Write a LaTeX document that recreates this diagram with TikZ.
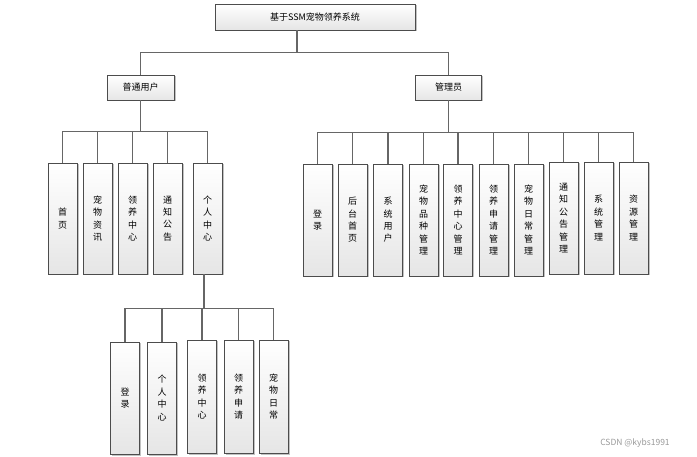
\documentclass[tikz,border=0pt]{standalone}
\usepackage{fontspec}
\newfontfamily\cjk{Noto Sans CJK SC}
\usetikzlibrary{shadows}
\tikzset{
  bx/.style={draw=black!70, line width=0.8pt, top color=white, bottom color=black!10,
    drop shadow={shadow xshift=1.5pt, shadow yshift=-1.5pt, fill=black!40, opacity=0.6},
    inner sep=0pt, align=center, font=\cjk\fontsize{9}{12.4}\selectfont},
  hb/.style={bx, minimum height=25pt},
  vb/.style={bx, minimum width=29pt, minimum height=111pt},
  conn/.style={draw=black!60, line width=1.2pt}
}
\begin{document}
\begin{tikzpicture}[x=1pt,y=-1pt]
\useasboundingbox (0,0) rectangle (697,457);
% top
\node[hb, minimum width=200pt, minimum height=26pt] (top) at (315,17) {基于SSM宠物领养系统};
\node[hb, minimum width=67pt] (u) at (140.5,87.5) {普通用户};
\node[hb, minimum width=66pt] (a) at (448.5,87.5) {管理员};
% user children
\node[vb] (u1) at (62.5,218.5) {首\\页};
\node[vb] (u2) at (97.5,218.5) {宠\\物\\资\\讯};
\node[vb] (u3) at (132.5,218.5) {领\\养\\中\\心};
\node[vb] (u4) at (167.5,218.5) {通\\知\\公\\告};
\node[vb] (u5) at (207.5,218.5) {个\\人\\中\\心};
% personal center children
\node[vb, minimum height=112pt] (p1) at (125,398) {登\\录};
\node[vb, minimum height=112pt] (p2) at (162,398) {个\\人\\中\\心};
\node[vb, minimum height=113pt] (p3) at (202,396.5) {领\\养\\中\\心};
\node[vb, minimum height=113pt] (p4) at (238.5,396.5) {领\\养\\申\\请};
\node[vb, minimum height=113pt] (p5) at (273.5,396.5) {宠\\物\\日\\常};
% admin children
\node[vb, minimum height=112pt] (a1) at (317.5,220) {登\\录};
\node[vb, minimum height=112pt] (a2) at (352.5,220) {后\\台\\首\\页};
\node[vb, minimum height=112pt] (a3) at (388,220) {系\\统\\用\\户};
\node[vb, minimum height=112pt] (a4) at (423.5,220) {宠\\物\\品\\种\\管\\理};
\node[vb, minimum height=112pt] (a5) at (458,220) {领\\养\\中\\心\\管\\理};
\node[vb, minimum height=112pt] (a6) at (493.5,220) {领\\养\\申\\请\\管\\理};
\node[vb, minimum height=112pt] (a7) at (528.5,220) {宠\\物\\日\\常\\管\\理};
\node[vb, minimum height=112pt] (a8) at (563.5,218) {通\\知\\公\\告\\管\\理};
\node[vb, minimum height=112pt] (a9) at (598.5,218) {系\\统\\管\\理};
\node[vb, minimum height=112pt] (a10) at (633.5,218) {资\\源\\管\\理};
% connectors
\foreach \c in {u,a}
  \draw[conn] ([xshift=-18pt]top.south) -- ++(0,22) -| (\c.north);
\foreach \c in {u1,u2,u3,u4,u5}
  \draw[conn] (u.south) -- ++(0,31) -| (\c.north);
\foreach \c in {p1,p2,p3,p4,p5}
  \draw[conn] ([xshift=-3.5pt]u5.south) -- ++(0,34) -| (\c.north);
\foreach \c in {a1,a2,a3,a4,a5,a6,a7,a8,a9,a10}
  \draw[conn] (a.south) -- ++(0,32) -| (\c.north);
% watermark
\node[text=black!40, font=\fontsize{8.5}{10}\selectfont\cjk] (wm) at (635,443) {CSDN @kybs1991};
\end{tikzpicture}
\end{document}
